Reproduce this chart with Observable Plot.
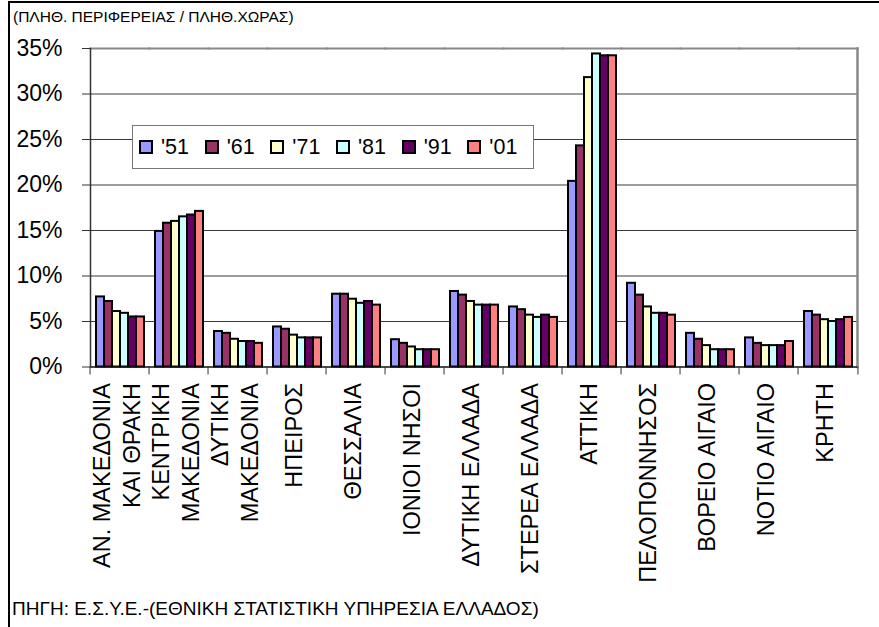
<!DOCTYPE html>
<html>
<head>
<meta charset="utf-8">
<script src="https://cdn.jsdelivr.net/npm/d3@7"></script>
<script src="https://cdn.jsdelivr.net/npm/@observablehq/plot@0.6"></script>
<style>
  body { margin: 0; background: #fff; font-family: "Liberation Sans", Arial, sans-serif; }
  #wrap { position: relative; width: 879px; height: 627px; overflow: hidden; background: #fff; }
  #border { position: absolute; left: 8px; top: 1px; width: 900px; height: 700px; border-top: 2px solid #000; border-left: 2px solid #000; }
  #title { position: absolute; left: 13px; top: 9px; font-size: 15.5px; line-height: 15px; color: #000; white-space: nowrap; }
  #caption { position: absolute; left: 12px; top: 599px; font-size: 19px; line-height: 19px; color: #000; white-space: nowrap; }
  #chart { position: absolute; left: 0; top: 0; }
  #legend { position: absolute; left: 132px; top: 125px; width: 402px; height: 44px; box-sizing: border-box;
            border: 1.5px solid #777; background: #fff; display: flex; align-items: center; padding-left: 6px; }
  .item { display: flex; align-items: center; width: 65.8px; font-size: 21.5px; }
  .sw { width: 14px; height: 14px; box-sizing: border-box; border: 2px solid #000; margin-right: 8px; }
</style>
</head>
<body>
<div id="wrap">
  <div id="border"></div>
  <div id="title">(ΠΛΗΘ. ΠΕΡΙΦΕΡΕΙΑΣ / ΠΛΗΘ.ΧΩΡΑΣ)</div>
  <div id="chart"></div>
  <div id="legend"></div>
  <div id="caption">ΠΗΓΗ: Ε.Σ.Υ.Ε.-(ΕΘΝΙΚΗ ΣΤΑΤΙΣΤΙΚΗ ΥΠΗΡΕΣΙΑ ΕΛΛΑΔΟΣ)</div>
</div>
<script>
const regions = ["ΑΝ. ΜΑΚΕΔΟΝΙΑ ΚΑΙ ΘΡΑΚΗ", "ΚΕΝΤΡΙΚΗ ΜΑΚΕΔΟΝΙΑ", "ΔΥΤΙΚΗ ΜΑΚΕΔΟΝΙΑ", "ΗΠΕΙΡΟΣ", "ΘΕΣΣΑΛΙΑ",
  "ΙΟΝΙΟΙ ΝΗΣΟΙ", "ΔΥΤΙΚΗ ΕΛΛΑΔΑ", "ΣΤΕΡΕΑ ΕΛΛΑΔΑ", "ΑΤΤΙΚΗ", "ΠΕΛΟΠΟΝΝΗΣΟΣ", "ΒΟΡΕΙΟ ΑΙΓΑΙΟ", "ΝΟΤΙΟ ΑΙΓΑΙΟ", "ΚΡΗΤΗ"];
const regionLabels = ["ΑΝ. ΜΑΚΕΔΟΝΙΑ\nΚΑΙ ΘΡΑΚΗ", "ΚΕΝΤΡΙΚΗ\nΜΑΚΕΔΟΝΙΑ", "ΔΥΤΙΚΗ\nΜΑΚΕΔΟΝΙΑ", "ΗΠΕΙΡΟΣ", "ΘΕΣΣΑΛΙΑ",
  "ΙΟΝΙΟΙ ΝΗΣΟΙ", "ΔΥΤΙΚΗ ΕΛΛΑΔΑ", "ΣΤΕΡΕΑ ΕΛΛΑΔΑ", "ΑΤΤΙΚΗ", "ΠΕΛΟΠΟΝΝΗΣΟΣ", "ΒΟΡΕΙΟ ΑΙΓΑΙΟ", "ΝΟΤΙΟ ΑΙΓΑΙΟ", "ΚΡΗΤΗ"];
const years = ["'51", "'61", "'71", "'81", "'91", "'01"];
const colors = ["#9999FF", "#993366", "#FFFFCC", "#CCFFFF", "#660066", "#FF8080"];
const yTicks = [0, 5, 10, 15, 20, 25, 30, 35];

const v51 = [7.7, 14.9, 3.9, 4.4, 8.0, 3.0, 8.3, 6.6, 20.4, 9.2, 3.7, 3.2, 6.1];
const v61 = [7.2, 15.8, 3.7, 4.15, 8.0, 2.6, 7.9, 6.3, 24.3, 7.9, 3.05, 2.6, 5.7];
const v71 = [6.1, 16.0, 3.05, 3.5, 7.45, 2.2, 7.2, 5.7, 31.8, 6.6, 2.35, 2.35, 5.2];
const v81 = [5.9, 16.5, 2.8, 3.2, 7.0, 1.9, 6.8, 5.45, 34.4, 5.9, 1.9, 2.35, 5.0];
const v91 = [5.5, 16.7, 2.8, 3.2, 7.2, 1.9, 6.8, 5.7, 34.2, 5.9, 1.9, 2.35, 5.2];
const v01 = [5.5, 17.1, 2.6, 3.2, 6.8, 1.9, 6.8, 5.45, 34.2, 5.7, 1.9, 2.8, 5.45];
const series = [v51, v61, v71, v81, v91, v01];

const data = regions.flatMap((r, i) => years.map((yr, j) => ({region: r, year: yr, value: series[j][i]})));
const labelOf = new Map(regions.map((r, i) => [r, regionLabels[i]]));

const W = 879, H = 627, ML = 84, MR = 16, MT = 48, MB = H - 366.5;
const bw = (W - ML - MR) / regions.length;
const font = "'Liberation Sans', Arial, sans-serif";

const chart = Plot.plot({
  width: W, height: H,
  marginLeft: ML, marginRight: MR, marginTop: MT, marginBottom: MB,
  style: {fontFamily: font, background: "transparent", color: "#000", overflow: "visible"},
  fx: {domain: regions, padding: 0, label: null},
  x: {domain: years, paddingInner: 0, paddingOuter: 0.67, axis: null},
  y: {domain: [0, 35], label: null},
  color: {domain: years, range: colors},
  marks: [
    Plot.gridY(yTicks.slice(1, -1), {stroke: "#3a3a3a", strokeOpacity: 1, strokeWidth: 1}),
    Plot.frame({anchor: "top", stroke: "#888", strokeWidth: 2}),
    Plot.frame({anchor: "right", stroke: "#888", strokeWidth: 2.5, facetAnchor: "right"}),
    Plot.barY(data, {fx: "region", x: "year", y: "value", fill: "year", stroke: "#000", strokeWidth: 2}),
    Plot.ruleY([0], {stroke: "#111", strokeWidth: 1.5}),
    Plot.frame({anchor: "left", stroke: "#333", strokeWidth: 1.5, facetAnchor: "left"}),
    Plot.axisY(yTicks, {tickSize: 8, tickPadding: 20, tickFormat: d => d + "%", fontSize: 23, stroke: "#333", label: null}),
    Plot.axisFx({anchor: "bottom", tickSize: 0, tickPadding: 16, tickRotate: -90, tickFormat: r => labelOf.get(r),
                 fontSize: 23.5, lineHeight: 1.3, textAnchor: "end", lineAnchor: "middle", dx: -5, label: null}),
    Plot.axisFx({anchor: "bottom", tickSize: 8, tickFormat: () => "", dx: -bw / 2, stroke: "#333", label: null}),
    Plot.axisFx({anchor: "bottom", ticks: [regions[regions.length - 1]], tickSize: 8, tickFormat: () => "", dx: bw / 2, stroke: "#333", label: null})
  ]
});
document.getElementById("chart").appendChild(chart);

const legend = document.getElementById("legend");
years.forEach((yr, i) => {
  const it = document.createElement("div");
  it.className = "item";
  const sw = document.createElement("div");
  sw.className = "sw";
  sw.style.background = colors[i];
  const t = document.createElement("span");
  t.textContent = yr;
  it.appendChild(sw);
  it.appendChild(t);
  legend.appendChild(it);
});
</script>
</body>
</html>
